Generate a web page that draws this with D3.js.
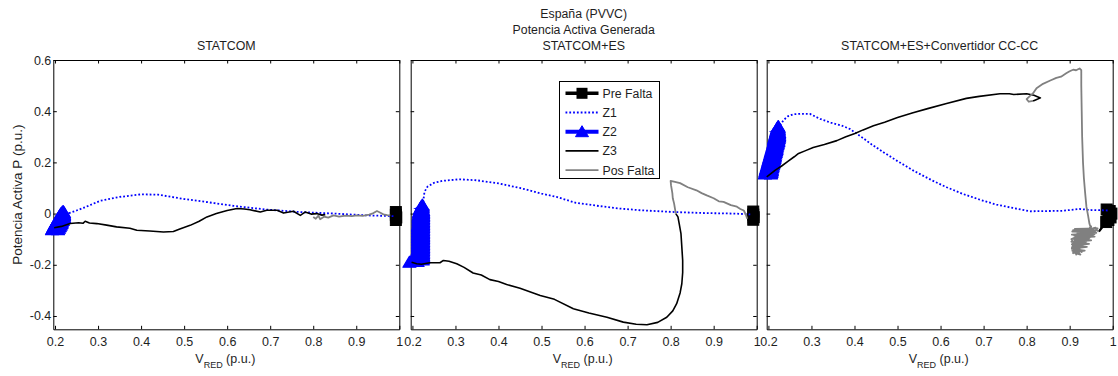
<!DOCTYPE html>
<html>
<head>
<meta charset="utf-8">
<script src="https://cdn.jsdelivr.net/npm/d3@7"></script>
<style>
  body { margin: 0; background: #fff; }
  svg { display: block; }
  text { font-family: "Liberation Sans", Arial, sans-serif; fill: #1e1e1e; }
</style>
</head>
<body>
<svg id="chart" width="1118" height="376"></svg>
<script>
// ---- labels ----
const figureTitle = ["España (PVVC)", "Potencia Activa Generada"];
const panelTitles = ["STATCOM", "STATCOM+ES", "STATCOM+ES+Convertidor CC-CC"];
const seriesNames = ["Pre Falta", "Z1", "Z2", "Z3", "Pos Falta"];
const xTicks = [0.2, 0.3, 0.4, 0.5, 0.6, 0.7, 0.8, 0.9, 1.0];
const yTicks = [-0.4, -0.2, 0, 0.2, 0.4, 0.6];
const xDomain = [0.196, 1.0];
const yDomain = [-0.452, 0.6];

// ---- panel 1: STATCOM  ([V_RED, P]) ----
const p1Pre = [[0.992, 0.006], [0.992, -0.005], [0.993, -0.015], [0.992, -0.025]];
const p1Z1 = [[0.224, -0.003], [0.25, 0.012], [0.27, 0.025], [0.305, 0.05], [0.35, 0.065],
  [0.4, 0.075], [0.44, 0.074], [0.5, 0.057], [0.57, 0.041], [0.615, 0.03], [0.69, 0.016],
  [0.77, 0.006], [0.85, 0.0], [0.925, -0.007], [0.99, -0.01]];
const p1Z2 = [[0.193, -0.063], [0.207, -0.063], [0.194, -0.06], [0.209, -0.057], [0.196, -0.054],
  [0.211, -0.051], [0.198, -0.048], [0.213, -0.045], [0.2, -0.042], [0.215, -0.039],
  [0.202, -0.036], [0.216, -0.033], [0.204, -0.03], [0.218, -0.027], [0.206, -0.024],
  [0.219, -0.021], [0.208, -0.018], [0.221, -0.015], [0.21, -0.012], [0.221, -0.009],
  [0.212, -0.006], [0.221, -0.003], [0.214, 0.0], [0.221, 0.003], [0.217, 0.006], [0.219, 0.008]];
const p1Z3 = [[0.198, -0.055], [0.215, -0.05], [0.235, -0.039], [0.255, -0.036], [0.265, -0.038],
  [0.27, -0.03], [0.28, -0.037], [0.297, -0.039], [0.32, -0.045], [0.343, -0.052],
  [0.374, -0.057], [0.39, -0.065], [0.42, -0.068], [0.452, -0.072], [0.475, -0.07],
  [0.49, -0.06], [0.514, -0.046], [0.535, -0.03], [0.553, -0.013], [0.575, 0.0],
  [0.6, 0.012], [0.623, 0.02], [0.64, 0.018], [0.653, 0.015], [0.677, 0.006],
  [0.692, 0.013], [0.716, 0.013], [0.731, 0.002], [0.754, 0.009], [0.77, -0.007],
  [0.781, 0.006], [0.795, -0.002], [0.808, 0.0], [0.82, -0.006], [0.828, -0.004]];
const p1Pos = [[0.8, -0.013], [0.806, -0.02], [0.812, -0.008], [0.816, -0.022], [0.825, -0.012],
  [0.835, -0.016], [0.847, -0.007], [0.86, -0.012], [0.875, -0.008], [0.89, -0.01],
  [0.901, -0.007], [0.915, -0.009], [0.93, -0.004], [0.94, 0.002], [0.948, 0.01],
  [0.955, 0.004], [0.963, -0.003], [0.972, -0.006], [0.979, -0.007]];

// ---- panel 2: STATCOM+ES ----
const p2Pre = [[0.992, 0.008], [0.992, -0.004], [0.993, -0.014], [0.992, -0.024]];
const p2Z1 = [[0.225, 0.045], [0.228, 0.085], [0.235, 0.105], [0.25, 0.12], [0.27, 0.128],
  [0.31, 0.134], [0.35, 0.13], [0.4, 0.118], [0.45, 0.1], [0.5, 0.078], [0.535, 0.065],
  [0.58, 0.042], [0.636, 0.029], [0.68, 0.02], [0.73, 0.013], [0.81, 0.006],
  [0.88, 0.002], [0.95, 0.0], [0.985, -0.003]];
const p2Z2 = [[0.193, -0.19], [0.212, -0.187], [0.198, -0.184], [0.224, -0.181], [0.203, -0.178],
  [0.225, -0.175], [0.206, -0.172], [0.225, -0.169], [0.208, -0.166], [0.225, -0.163],
  [0.21, -0.16], [0.225, -0.157], [0.211, -0.154], [0.225, -0.151], [0.212, -0.148],
  [0.225, -0.145], [0.212, -0.142], [0.225, -0.139], [0.213, -0.136], [0.225, -0.133],
  [0.213, -0.13], [0.225, -0.127], [0.213, -0.124], [0.225, -0.121], [0.213, -0.118],
  [0.225, -0.115], [0.213, -0.112], [0.225, -0.109], [0.213, -0.106], [0.225, -0.103],
  [0.213, -0.1], [0.225, -0.097], [0.213, -0.094], [0.225, -0.091], [0.213, -0.088],
  [0.225, -0.085], [0.213, -0.082], [0.225, -0.079], [0.213, -0.076], [0.225, -0.073],
  [0.213, -0.07], [0.225, -0.067], [0.213, -0.064], [0.225, -0.061], [0.213, -0.058],
  [0.225, -0.055], [0.213, -0.052], [0.225, -0.049], [0.213, -0.046], [0.225, -0.043],
  [0.214, -0.04], [0.225, -0.037], [0.214, -0.034], [0.225, -0.031], [0.214, -0.028],
  [0.225, -0.025], [0.214, -0.022], [0.225, -0.019], [0.214, -0.016], [0.225, -0.013],
  [0.214, -0.01], [0.225, -0.007], [0.215, -0.004], [0.225, -0.001], [0.215, 0.002],
  [0.225, 0.005], [0.216, 0.008], [0.225, 0.011], [0.217, 0.014], [0.224, 0.017],
  [0.218, 0.02], [0.224, 0.023], [0.22, 0.026], [0.224, 0.029], [0.223, 0.033]];
const p2Z3 = [[0.198, -0.19], [0.21, -0.196], [0.221, -0.198], [0.24, -0.192], [0.264, -0.192],
  [0.272, -0.183], [0.285, -0.186], [0.303, -0.196], [0.32, -0.21], [0.341, -0.232],
  [0.36, -0.24], [0.38, -0.258], [0.4, -0.265], [0.419, -0.277], [0.45, -0.292],
  [0.497, -0.32], [0.53, -0.335], [0.574, -0.372], [0.61, -0.388], [0.652, -0.405],
  [0.69, -0.424], [0.72, -0.432], [0.745, -0.434], [0.77, -0.425], [0.791, -0.405],
  [0.805, -0.38], [0.814, -0.352], [0.822, -0.31], [0.826, -0.274], [0.828, -0.23],
  [0.828, -0.183], [0.826, -0.13], [0.824, -0.078], [0.82, -0.04], [0.817, -0.013], [0.812, 0.0]];
const p2Pos = [[0.812, 0.0], [0.808, 0.04], [0.805, 0.06], [0.804, 0.08], [0.801, 0.11],
  [0.8, 0.128], [0.81, 0.124], [0.822, 0.119], [0.84, 0.103], [0.86, 0.091], [0.872, 0.08],
  [0.884, 0.071], [0.9, 0.06], [0.912, 0.048], [0.923, 0.046], [0.94, 0.033],
  [0.954, 0.027], [0.962, 0.018], [0.97, 0.012], [0.975, -0.005], [0.978, -0.02]];

// ---- panel 3: STATCOM+ES+Convertidor CC-CC ----
const p3Pre = [[0.968, -0.07], [0.985, -0.033], [0.99, -0.025], [0.995, -0.015],
  [0.997, 0.0], [0.993, 0.01], [0.986, 0.016]];
const p3Z1 = [[0.227, 0.345], [0.235, 0.365], [0.245, 0.38], [0.258, 0.388], [0.275, 0.39],
  [0.297, 0.389], [0.32, 0.37], [0.345, 0.355], [0.37, 0.344], [0.39, 0.33], [0.42, 0.295],
  [0.44, 0.27], [0.467, 0.24], [0.5, 0.205], [0.54, 0.165], [0.58, 0.13], [0.614, 0.103],
  [0.65, 0.078], [0.69, 0.055], [0.73, 0.035], [0.768, 0.022], [0.807, 0.009],
  [0.85, 0.01], [0.884, 0.011], [0.923, 0.018], [0.95, 0.014], [0.977, 0.013], [0.99, 0.012]];
const p3Z2 = [[0.192, 0.155], [0.206, 0.155], [0.193, 0.158], [0.207, 0.161], [0.193, 0.164],
  [0.208, 0.167], [0.194, 0.17], [0.208, 0.173], [0.195, 0.176], [0.209, 0.179],
  [0.196, 0.182], [0.21, 0.185], [0.197, 0.188], [0.211, 0.191], [0.198, 0.194],
  [0.212, 0.197], [0.199, 0.2], [0.212, 0.203], [0.2, 0.206], [0.213, 0.209],
  [0.201, 0.212], [0.214, 0.215], [0.202, 0.218], [0.215, 0.221], [0.203, 0.224],
  [0.215, 0.227], [0.204, 0.23], [0.216, 0.233], [0.205, 0.236], [0.217, 0.239],
  [0.206, 0.242], [0.218, 0.245], [0.207, 0.248], [0.219, 0.251], [0.208, 0.254],
  [0.219, 0.257], [0.209, 0.26], [0.22, 0.263], [0.21, 0.266], [0.221, 0.269],
  [0.211, 0.272], [0.222, 0.275], [0.212, 0.278], [0.223, 0.281], [0.213, 0.284],
  [0.223, 0.287], [0.213, 0.29], [0.224, 0.293], [0.214, 0.296], [0.225, 0.299],
  [0.215, 0.302], [0.225, 0.305], [0.216, 0.308], [0.225, 0.311], [0.217, 0.314],
  [0.225, 0.317], [0.218, 0.32], [0.224, 0.323], [0.219, 0.326], [0.224, 0.329],
  [0.22, 0.332], [0.224, 0.335], [0.222, 0.338], [0.223, 0.34]];
const p3Z3 = [[0.196, 0.143], [0.205, 0.155], [0.216, 0.17], [0.23, 0.185], [0.246, 0.205],
  [0.26, 0.222], [0.27, 0.235], [0.285, 0.245], [0.304, 0.258], [0.33, 0.27],
  [0.359, 0.285], [0.38, 0.3], [0.401, 0.313], [0.42, 0.327], [0.444, 0.343],
  [0.47, 0.357], [0.5, 0.375], [0.536, 0.394], [0.57, 0.41], [0.614, 0.43], [0.66, 0.45],
  [0.69, 0.458], [0.738, 0.468], [0.76, 0.468], [0.77, 0.465], [0.8, 0.468],
  [0.817, 0.462], [0.832, 0.452], [0.822, 0.445], [0.815, 0.44]];
const p3Pos = [[0.815, 0.44], [0.805, 0.437], [0.8, 0.447], [0.808, 0.46], [0.815, 0.47],
  [0.823, 0.49], [0.838, 0.507], [0.855, 0.52], [0.869, 0.53], [0.88, 0.535],
  [0.892, 0.548], [0.9, 0.556], [0.908, 0.562], [0.915, 0.56], [0.923, 0.567],
  [0.927, 0.56], [0.927, 0.5], [0.928, 0.4], [0.929, 0.3], [0.931, 0.2], [0.933, 0.14],
  [0.936, 0.08], [0.939, 0.026], [0.943, -0.01], [0.946, -0.04], [0.95, -0.06],
  [0.908, -0.065], [0.962, -0.075], [0.905, -0.082], [0.958, -0.09], [0.91, -0.095],
  [0.95, -0.105], [0.904, -0.11], [0.945, -0.118], [0.907, -0.125], [0.94, -0.13],
  [0.905, -0.138], [0.935, -0.145], [0.908, -0.152], [0.925, -0.16], [0.912, -0.145],
  [0.918, -0.075], [0.922, -0.158], [0.928, -0.07], [0.915, -0.15], [0.935, -0.065],
  [0.913, -0.13], [0.942, -0.06], [0.91, -0.1], [0.948, -0.072], [0.906, -0.07],
  [0.955, -0.065], [0.92, -0.12], [0.96, -0.055], [0.91, -0.085], [0.938, -0.11],
  [0.905, -0.12], [0.932, -0.095], [0.918, -0.14], [0.945, -0.085], [0.912, -0.06],
  [0.965, -0.058], [0.93, -0.125], [0.95, -0.05], [0.925, -0.1], [0.908, -0.155],
  [0.94, -0.075], [0.904, -0.1], [0.928, -0.15], [0.91, -0.125], [0.945, -0.095],
  [0.906, -0.145], [0.935, -0.08], [0.915, -0.16], [0.922, -0.065], [0.905, -0.135],
  [0.958, -0.08], [0.918, -0.09], [0.962, -0.065], [0.968, -0.07]];

const panels = [
  { title: panelTitles[0], pre: p1Pre, z1: p1Z1, z2: p1Z2, z3: p1Z3, pos: p1Pos },
  { title: panelTitles[1], pre: p2Pre, z1: p2Z1, z2: p2Z2, z3: p2Z3, pos: p2Pos },
  { title: panelTitles[2], pre: p3Pre, z1: p3Z1, z2: p3Z2, z3: p3Z3, pos: p3Pos }
];

// ---- layout ----
const panelLeft = [53.3, 410.7, 766.7];
const panelTop = 60, panelW = 346, panelH = 269.3;
const tickLen = 3.5;

const colors = { pre: "#000", z1: "#0000ff", z2: "#0000ff", z3: "#000", pos: "#808080" };
const triPath = "M0,-6 L6.5,5 L-6.5,5 Z";
const fmt = d => String(+d.toFixed(1));

const svg = d3.select("#chart");

// figure title lines, centred over the middle panel
const midX = panelLeft[1] + panelW / 2;
svg.append("text").attr("x", midX).attr("y", 17.5).attr("text-anchor", "middle")
  .attr("font-size", 12.3).text(figureTitle[0]);
svg.append("text").attr("x", midX).attr("y", 33.5).attr("text-anchor", "middle")
  .attr("font-size", 12.3).text(figureTitle[1]);

panels.forEach((p, i) => {
  const g = svg.append("g").attr("transform", `translate(${panelLeft[i]},${panelTop})`);
  const x = d3.scaleLinear().domain(xDomain).range([0, panelW]);
  const y = d3.scaleLinear().domain(yDomain).range([panelH, 0]);

  g.append("rect").attr("width", panelW).attr("height", panelH)
    .attr("fill", "#fff").attr("stroke", "none");

  // axes box with inward ticks on all four sides
  const bottom = g.append("g").attr("transform", `translate(0,${panelH})`)
    .call(d3.axisBottom(x).tickValues(xTicks).tickFormat(fmt)
      .tickSizeInner(-tickLen).tickSizeOuter(0).tickPadding(7.8));
  const top = g.append("g")
    .call(d3.axisTop(x).tickValues(xTicks).tickFormat("")
      .tickSizeInner(-tickLen).tickSizeOuter(0));
  const left = g.append("g")
    .call(d3.axisLeft(y).tickValues(yTicks).tickFormat(i === 0 ? fmt : "")
      .tickSizeInner(-tickLen).tickSizeOuter(0).tickPadding(2));
  const right = g.append("g").attr("transform", `translate(${panelW},0)`)
    .call(d3.axisRight(y).tickValues(yTicks).tickFormat("")
      .tickSizeInner(-tickLen).tickSizeOuter(0));
  [bottom, top, left, right].forEach(a => {
    a.select(".domain").attr("stroke", "#000").attr("stroke-width", 1);
    a.selectAll(".tick line").attr("stroke", "#000");
    a.selectAll("text").attr("font-size", 12.5).attr("font-family", null).attr("fill", "#1e1e1e");
  });

  // panel title
  g.append("text").attr("x", panelW / 2).attr("y", -10).attr("text-anchor", "middle")
    .attr("font-size", 12.4).text(p.title);

  // x-axis label V_RED (p.u.)
  const xl = g.append("text").attr("x", panelW / 2 - 1).attr("y", panelH + 33.5)
    .attr("text-anchor", "middle").attr("font-size", 12.5);
  xl.append("tspan").text("V");
  xl.append("tspan").attr("font-size", 9).attr("dy", 5).text("RED");
  xl.append("tspan").attr("dy", -5).text(" (p.u.)");

  const line = d3.line().x(d => x(d[0])).y(d => y(d[1]));

  // Pre Falta: thick line, squares on the steady operating points near 1 p.u.
  g.append("path").datum(p.pre).attr("d", line).attr("fill", "none")
    .attr("stroke", colors.pre).attr("stroke-width", 2.2);
  g.selectAll(".pre-mark").data(p.pre.filter(d => d[0] >= 0.98)).join("rect")
    .attr("x", d => x(d[0]) - 5.5).attr("y", d => y(d[1]) - 5.5)
    .attr("width", 11).attr("height", 11)
    .attr("fill", colors.pre).attr("stroke", colors.pre).attr("stroke-width", 1);

  // Z1: dotted blue
  g.append("path").datum(p.z1).attr("d", line).attr("fill", "none")
    .attr("stroke", colors.z1).attr("stroke-width", 1.8).attr("stroke-dasharray", "1.8,2");

  // Z2: thick blue with filled triangles
  g.append("path").datum(p.z2).attr("d", line).attr("fill", "none")
    .attr("stroke", colors.z2).attr("stroke-width", 4);
  g.selectAll(".z2-mark").data(p.z2).join("path")
    .attr("d", triPath)
    .attr("transform", d => `translate(${x(d[0])},${y(d[1])})`)
    .attr("fill", colors.z2).attr("stroke", colors.z2).attr("stroke-width", 1.2)
    .attr("stroke-linejoin", "round");

  // Z3: solid black
  g.append("path").datum(p.z3).attr("d", line).attr("fill", "none")
    .attr("stroke", colors.z3).attr("stroke-width", 1.6).attr("stroke-linejoin", "round");

  // Pos Falta: solid grey
  g.append("path").datum(p.pos).attr("d", line).attr("fill", "none")
    .attr("stroke", colors.pos).attr("stroke-width", 1.8).attr("stroke-linejoin", "round");

  // y-axis label on the first panel
  if (i === 0) {
    svg.append("text")
      .attr("transform", `translate(22,${panelTop + panelH / 2}) rotate(-90)`)
      .attr("text-anchor", "middle").attr("font-size", 13.5)
      .text("Potencia Activa P (p.u.)");
  }

  // legend inside the middle panel
  if (i === 1) {
    const lg = svg.append("g").attr("transform", "translate(559.5,81.5)");
    lg.append("rect").attr("width", 100).attr("height", 97)
      .attr("fill", "#fff").attr("stroke", "#000").attr("stroke-width", 1);
    const rowY = k => 11.8 + k * 19.2;
    const x0 = 6, x1 = 39, xm = (x0 + x1) / 2;
    seriesNames.forEach((name, k) => {
      const row = lg.append("g").attr("transform", `translate(0,${rowY(k)})`);
      if (k === 0) {
        row.append("line").attr("x1", x0).attr("x2", x1).attr("stroke", "#000").attr("stroke-width", 3.5);
        row.append("rect").attr("x", xm - 5.5).attr("y", -5.5).attr("width", 11).attr("height", 11)
          .attr("fill", "#000");
      } else if (k === 1) {
        row.append("line").attr("x1", x0).attr("x2", x1).attr("stroke", colors.z1)
          .attr("stroke-width", 1.8).attr("stroke-dasharray", "1.8,2");
      } else if (k === 2) {
        row.append("line").attr("x1", x0).attr("x2", x1).attr("stroke", colors.z2).attr("stroke-width", 4);
        row.append("path").attr("d", triPath).attr("transform", `translate(${xm},0)`)
          .attr("fill", colors.z2).attr("stroke", colors.z2);
      } else if (k === 3) {
        row.append("line").attr("x1", x0).attr("x2", x1).attr("stroke", colors.z3).attr("stroke-width", 1.6);
      } else {
        row.append("line").attr("x1", x0).attr("x2", x1).attr("stroke", colors.pos).attr("stroke-width", 1.8);
      }
      row.append("text").attr("x", 43).attr("y", 4.4).attr("font-size", 12.3).text(name);
    });
  }
});
</script>
</body>
</html>
